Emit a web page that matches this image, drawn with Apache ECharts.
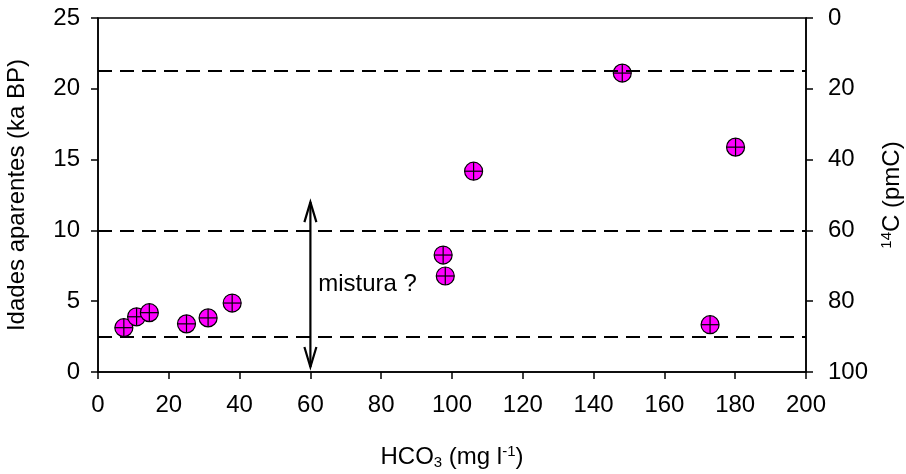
<!DOCTYPE html>
<html>
<head>
<meta charset="utf-8">
<script src="https://cdn.jsdelivr.net/npm/echarts@6/dist/echarts.min.js"></script>
<style>
  html, body { margin: 0; padding: 0; background: #fff; }
  #chart { width: 906px; height: 474px; }
</style>
</head>
<body>
<div id="chart"></div>
<script>
// HCO3 (mg/l) vs idades aparentes (ka BP)
const hco3 = [7.3, 10.9, 14.5, 25.0, 31.1, 37.9, 97.5, 98.1, 106.1, 148.1, 180.1, 172.9]
const idades = [3.13, 3.90, 4.19, 3.40, 3.82, 4.87, 8.26, 6.78, 14.18, 21.11, 15.88, 3.34]

// linhas de referência em pmC (eixo direito)
const pmcLines = [15, 60, 90]

// seta "mistura ?" (x, y inicial, y final) e posição do texto
const arrow = [[60, 0.35, 12.0]]
const mixLabel = [[62.2, 6.2, 'mistura ?']]

const xTicks = { min: 0, max: 200, interval: 20 }
const yTicks = { min: 0, max: 25, interval: 5 }
const pmcTicks = { min: 0, max: 100, interval: 20 }

const FONT = 'Liberation Sans, Arial, sans-serif'
const FS = 24
const chart = echarts.init(document.getElementById('chart'))

const axisCommon = {
  axisLine: { show: true, onZero: false, lineStyle: { color: '#000', width: 1.5 } },
  axisTick: { show: true, inside: false, length: 7, lineStyle: { color: '#000', width: 1.5 } },
  splitLine: { show: false },
  axisLabel: { color: '#000', fontSize: FS, fontFamily: FONT },
  nameTextStyle: { color: '#000', fontSize: FS, fontFamily: FONT },
}

const richText = {
  n: { fontSize: FS, fontFamily: FONT, color: '#000', lineHeight: 26 },
  sub: { fontSize: 15, fontFamily: FONT, color: '#000', lineHeight: 15, padding: [14, 0, 0, 0], verticalAlign: 'bottom' },
  sup: { fontSize: 15, fontFamily: FONT, color: '#000', lineHeight: 15, padding: [0, 0, 12, 0], verticalAlign: 'top' },
}

const option = {
  animation: false,
  backgroundColor: '#fff',
  grid: {
    left: 98, right: 100, top: 18, bottom: 102,
    outerBoundsMode: 'none',
    containLabel: false,
    show: true, borderColor: '#000', borderWidth: 1.5, backgroundColor: 'transparent',
  },
  xAxis: {
    type: 'value',
    ...xTicks,
    ...axisCommon,
    axisLabel: { ...axisCommon.axisLabel, margin: 21 },
    name: '{n|HCO}{sub|3}{n| (mg l}{sup|-1}{n|)}',
    nameLocation: 'middle',
    nameGap: 72,
    nameTextStyle: { ...axisCommon.nameTextStyle, rich: richText },
  },
  yAxis: [
    {
      type: 'value',
      ...yTicks,
      ...axisCommon,
      axisLabel: { ...axisCommon.axisLabel, margin: 18 },
      name: 'Idades aparentes (ka BP)',
      nameLocation: 'middle',
      nameGap: 69,
      nameRotate: 90,
    },
    {
      type: 'value',
      position: 'right',
      inverse: true,
      ...pmcTicks,
      ...axisCommon,
      axisLabel: { ...axisCommon.axisLabel, margin: 22 },
      name: '{sup|14}{n|C (pmC)}',
      nameLocation: 'middle',
      nameGap: 68,
      nameRotate: 90,
      nameTextStyle: { ...axisCommon.nameTextStyle, rich: richText },
    },
  ],
  series: [
    {
      // linhas tracejadas, no eixo pmC
      type: 'line',
      yAxisIndex: 1,
      data: [],
      markLine: {
        silent: true,
        symbol: 'none',
        label: { show: false },
        lineStyle: { color: '#000', width: 2, type: [14, 8] },
        data: pmcLines.map(v => ({ yAxis: v })),
      },
      z: 1,
    },
    {
      // seta dupla
      type: 'custom',
      data: arrow,
      z: 3,
      renderItem: (params, api) => {
        const top = api.coord([api.value(0), api.value(2)])
        const bot = api.coord([api.value(0), api.value(1)])
        const hl = 20, hw = 6
        const style = { stroke: '#000', lineWidth: 2.2, fill: null }
        return {
          type: 'group',
          children: [
            { type: 'line', shape: { x1: top[0], y1: top[1], x2: bot[0], y2: bot[1] }, style },
            { type: 'polyline', shape: { points: [[top[0] - hw, top[1] + hl], top, [top[0] + hw, top[1] + hl]] }, style },
            { type: 'polyline', shape: { points: [[bot[0] - hw, bot[1] - hl], bot, [bot[0] + hw, bot[1] - hl]] }, style },
          ],
        }
      },
    },
    {
      type: 'custom',
      data: mixLabel,
      z: 3,
      renderItem: (params, api) => {
        const p = api.coord([api.value(0), api.value(1)])
        return {
          type: 'text',
          x: p[0], y: p[1],
          style: { text: mixLabel[params.dataIndex][2], fill: '#000', font: FS + 'px ' + FONT, textAlign: 'left', textVerticalAlign: 'middle' },
        }
      },
    },
    {
      // pontos: círculo magenta com cruz
      type: 'custom',
      data: hco3.map((x, i) => [x, idades[i]]),
      z: 4,
      renderItem: (params, api) => {
        const p = api.coord([api.value(0), api.value(1)])
        const r = 9
        const ln = { stroke: '#000', lineWidth: 1.2 }
        return {
          type: 'group',
          children: [
            { type: 'circle', shape: { cx: p[0], cy: p[1], r }, style: { fill: '#ff00ff', stroke: '#000', lineWidth: 1.2 } },
            { type: 'line', shape: { x1: p[0] - r, y1: p[1], x2: p[0] + r, y2: p[1] }, style: ln },
            { type: 'line', shape: { x1: p[0], y1: p[1] - r, x2: p[0], y2: p[1] + r }, style: ln },
          ],
        }
      },
    },
  ],
}

chart.setOption(option)
window.addEventListener('resize', () => chart.resize())
</script>
</body>
</html>
